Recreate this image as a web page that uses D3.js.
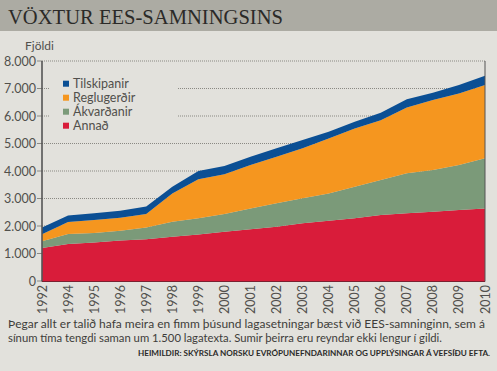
<!DOCTYPE html>
<html>
<head>
<meta charset="utf-8">
<script src="https://cdn.jsdelivr.net/npm/d3@7"></script>
<style>
  body { margin: 0; background: #e2e1dc; }
  svg { display: block; }
</style>
</head>
<body>
<svg id="chart" width="497" height="371"></svg>
<script>
const years = ["1992","1994","1995","1996","1997","1998","1999","2000","2001","2002","2003","2004","2005","2006","2007","2008","2009","2010"];
const annad       = [1200,1350,1400,1470,1520,1610,1690,1790,1880,1975,2100,2190,2280,2400,2460,2520,2580,2640];
const akvardanir  = [ 250, 360, 345, 360, 430, 545, 590, 645, 760, 850, 910, 990,1150,1270,1455,1515,1635,1820];
const reglugerdir = [ 250, 440, 470, 470, 490,1030,1420,1445,1580,1695,1820,2000,2120,2180,2390,2545,2605,2670];
const tilskipanir = [ 250, 230, 245, 255, 265, 240, 300, 300, 300, 305, 300, 250, 245, 270, 300, 265, 305, 330];
const yTicks = [0,1000,2000,3000,4000,5000,6000,7000,8000];

const seriesNames = ["Annað", "Ákvarðanir", "Reglugerðir", "Tilskipanir"];
const seriesValues = [annad, akvardanir, reglugerdir, tilskipanir];
const colors = ["#d91c3a", "#7b9a79", "#f5961f", "#0b4f94"];

let rows = years.map((y, i) => {
  let r = {year: y};
  seriesNames.forEach((k, j) => r[k] = seriesValues[j][i]);
  return r;
});

const svg = d3.select("#chart");
const fontSans = "Lato, 'Open Sans', sans-serif";
const textColor = "#51504c";

// title band
svg.append("rect").attr("x", 0).attr("y", 0).attr("width", 497).attr("height", 31).attr("fill", "#acaba3");
svg.append("text")
  .attr("x", 8).attr("y", 23.5)
  .attr("font-family", "'Liberation Serif', serif")
  .attr("font-size", 21.5)
  .attr("textLength", 275)
  .attr("lengthAdjust", "spacingAndGlyphs")
  .attr("fill", "#2b2a28")
  .text("VÖXTUR EES-SAMNINGSINS");

const x = d3.scalePoint().domain(years).range([42, 485]);
const y = d3.scaleLinear().domain([0, 8000]).range([281, 61]);

// gridlines
svg.append("g").selectAll("line")
  .data(yTicks.filter(d => d > 0))
  .join("line")
    .attr("x1", 42).attr("x2", 485)
    .attr("y1", d => y(d)).attr("y2", d => y(d))
    .attr("stroke", "#8a8983")
    .attr("stroke-width", 1)
    .attr("stroke-dasharray", "1,1");

svg.append("g").selectAll("line")
  .data(yTicks)
  .join("line")
    .attr("x1", 37).attr("x2", 42)
    .attr("y1", d => y(d)).attr("y2", d => y(d))
    .attr("stroke", "#8a8983");

// stacked areas
const stack = d3.stack().keys(seriesNames)(rows);
const area = d3.area()
  .x(d => x(d.data.year))
  .y0(d => y(d[0]))
  .y1(d => y(d[1]));

svg.append("g").selectAll("path")
  .data(stack)
  .join("path")
    .attr("d", area)
    .attr("fill", (d, i) => colors[i]);

// axes lines
svg.append("line").attr("x1", 42).attr("x2", 42).attr("y1", 61).attr("y2", 281.5)
  .attr("stroke", "#555").attr("stroke-width", 1.6);
svg.append("line").attr("x1", 485).attr("x2", 485).attr("y1", 61).attr("y2", 281.5)
  .attr("stroke", "#555").attr("stroke-width", 1);
svg.append("line").attr("x1", 42).attr("x2", 485).attr("y1", 281.5).attr("y2", 281.5)
  .attr("stroke", "#7a2030").attr("stroke-width", 1);

// y labels
const fmt = d => d === 0 ? "0" : d3.format(",")(d).replace(",", ".");
svg.append("g").selectAll("text")
  .data(yTicks)
  .join("text")
    .attr("x", 36).attr("y", d => y(d))
    .attr("dy", "0.36em")
    .attr("text-anchor", "end")
    .attr("font-family", fontSans)
    .attr("font-size", 12.5)
    .attr("fill", textColor)
    .text(fmt);

svg.append("text")
  .attr("x", 25).attr("y", 50)
  .attr("font-family", fontSans)
  .attr("font-size", 12)
  .attr("fill", textColor)
  .text("Fjöldi");

// x labels
svg.append("g").selectAll("text")
  .data(years)
  .join("text")
    .attr("transform", d => `translate(${x(d)} 285) rotate(-90)`)
    .attr("dy", "0.36em")
    .attr("text-anchor", "end")
    .attr("font-family", fontSans)
    .attr("font-size", 12.5)
    .attr("fill", textColor)
    .text(d => d);

// legend
const legend = svg.append("g");
legend.append("rect").attr("x", 50).attr("y", 74).attr("width", 127).attr("height", 60).attr("fill", "#e2e1dc");
const legendItems = seriesNames.map((n, i) => ({name: n, color: colors[i]})).reverse();
legendItems.forEach((d, i) => {
  let ly = 83.7 + i * 14;
  legend.append("rect")
    .attr("x", 63).attr("y", ly - 3).attr("width", 6).attr("height", 6)
    .attr("fill", d.color);
  legend.append("text")
    .attr("x", 73).attr("y", ly)
    .attr("dy", "0.36em")
    .attr("font-family", fontSans)
    .attr("font-size", 12.5)
    .attr("fill", textColor)
    .text(d.name);
});

// footer
svg.append("text")
  .attr("x", 8).attr("y", 328)
  .attr("font-family", fontSans).attr("font-size", 12)
  .attr("textLength", 477).attr("lengthAdjust", "spacingAndGlyphs")
  .attr("fill", "#3e3d3a")
  .text("Þegar allt er talið hafa meira en fimm þúsund lagasetningar bæst við EES-samninginn, sem á");
svg.append("text")
  .attr("x", 8).attr("y", 342)
  .attr("font-family", fontSans).attr("font-size", 12)
  .attr("textLength", 434).attr("lengthAdjust", "spacingAndGlyphs")
  .attr("fill", "#3e3d3a")
  .text("sínum tíma tengdi saman um  1.500 lagatexta. Sumir þeirra eru reyndar ekki lengur í gildi.");
svg.append("text")
  .attr("x", 490).attr("y", 355.5)
  .attr("text-anchor", "end")
  .attr("font-family", fontSans).attr("font-size", 8).attr("font-weight", "bold")
  .attr("textLength", 352).attr("lengthAdjust", "spacingAndGlyphs")
  .attr("fill", "#2b2a28")
  .text("HEIMILDIR: SKÝRSLA NORSKU EVRÓPUNEFNDARINNAR OG UPPLÝSINGAR Á VEFSÍÐU EFTA.");
</script>
</body>
</html>
